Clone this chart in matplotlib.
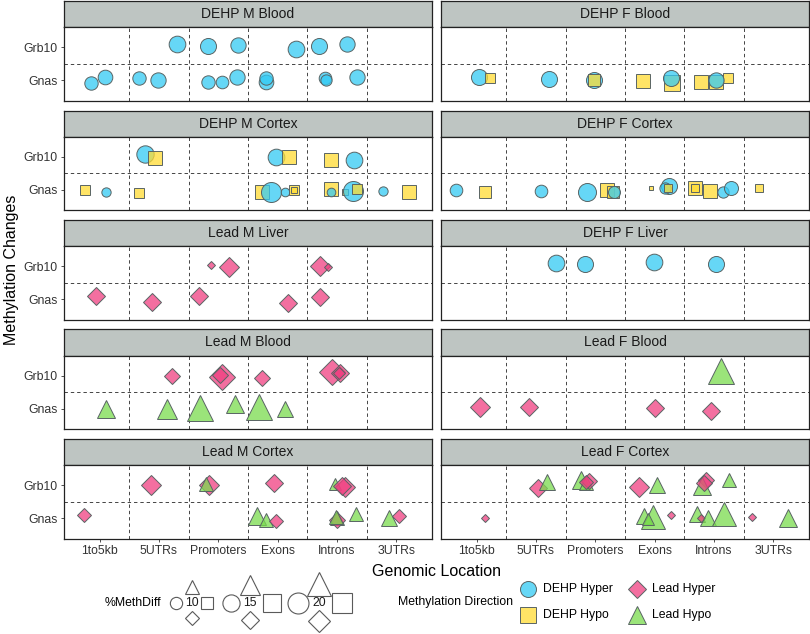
import numpy as np
import matplotlib.pyplot as plt
from matplotlib.colors import to_rgba

plt.rcParams['font.family'] = ['Liberation Sans', 'DejaVu Sans']

regions = ['1to5kb', '5UTRs', 'Promoters', 'Exons', 'Introns', '3UTRs']
genes = ['Gnas', 'Grb10']
directions = ['DEHP Hyper', 'DEHP Hypo', 'Lead Hyper', 'Lead Hypo']
size_breaks = [10, 15, 20]

# rows: (region, gene, direction, %MethDiff, jitter x, jitter y)
dehp_m_blood = [
    ('5UTRs', 'Grb10', 'DEHP Hyper', 14.4, 0.31, 0.10),
    ('Promoters', 'Grb10', 'DEHP Hyper', 13.7, -0.18, 0.03),
    ('Promoters', 'Grb10', 'DEHP Hyper', 12.9, 0.33, 0.07),
    ('Exons', 'Grb10', 'DEHP Hyper', 14.4, 0.31, -0.05),
    ('Introns', 'Grb10', 'DEHP Hyper', 13.7, -0.31, 0.02),
    ('Introns', 'Grb10', 'DEHP Hyper', 12.9, 0.17, 0.08),
    ('1to5kb', 'Gnas', 'DEHP Hyper', 11.0, -0.14, -0.07),
    ('1to5kb', 'Gnas', 'DEHP Hyper', 12.2, 0.09, 0.09),
    ('5UTRs', 'Gnas', 'DEHP Hyper', 11.0, -0.33, 0.08),
    ('5UTRs', 'Gnas', 'DEHP Hyper', 12.9, -0.01, 0.01),
    ('Promoters', 'Gnas', 'DEHP Hyper', 11.0, -0.17, -0.06),
    ('Promoters', 'Gnas', 'DEHP Hyper', 10.3, 0.06, -0.05),
    ('Promoters', 'Gnas', 'DEHP Hyper', 12.9, 0.32, 0.10),
    ('Exons', 'Gnas', 'DEHP Hyper', 12.2, -0.20, -0.04),
    ('Exons', 'Gnas', 'DEHP Hyper', 11.0, -0.20, 0.07),
    ('Introns', 'Gnas', 'DEHP Hyper', 10.3, -0.21, 0.07),
    ('Introns', 'Gnas', 'DEHP Hyper', 9.2, -0.18, 0.01),
    ('Introns', 'Gnas', 'DEHP Hyper', 12.9, 0.33, 0.09),
]

dehp_m_cortex = [
    ('5UTRs', 'Grb10', 'DEHP Hyper', 15.2, -0.23, 0.08),
    ('5UTRs', 'Grb10', 'DEHP Hypo', 12.2, -0.07, -0.03),
    ('Exons', 'Grb10', 'DEHP Hyper', 14.4, -0.03, 0.0),
    ('Exons', 'Grb10', 'DEHP Hypo', 12.2, 0.19, 0.0),
    ('Introns', 'Grb10', 'DEHP Hypo', 12.2, -0.11, -0.10),
    ('Introns', 'Grb10', 'DEHP Hyper', 14.4, 0.29, -0.10),
    ('1to5kb', 'Gnas', 'DEHP Hypo', 8.8, -0.25, -0.01),
    ('1to5kb', 'Gnas', 'DEHP Hyper', 7.8, 0.10, -0.07),
    ('5UTRs', 'Gnas', 'DEHP Hypo', 8.3, -0.34, -0.09),
    ('Exons', 'Gnas', 'DEHP Hypo', 11.0, -0.27, -0.07),
    ('Exons', 'Gnas', 'DEHP Hyper', 18.6, -0.12, -0.07),
    ('Exons', 'Gnas', 'DEHP Hyper', 7.4, 0.13, -0.07),
    ('Exons', 'Gnas', 'DEHP Hypo', 7.8, 0.27, -0.01),
    ('Exons', 'Gnas', 'DEHP Hypo', 6.1, 0.27, -0.01),
    ('Introns', 'Gnas', 'DEHP Hypo', 11.0, -0.10, 0.04),
    ('Introns', 'Gnas', 'DEHP Hyper', 7.4, -0.10, -0.07),
    ('Introns', 'Gnas', 'DEHP Hypo', 6.1, 0.13, -0.07),
    ('Introns', 'Gnas', 'DEHP Hyper', 18.6, 0.27, -0.04),
    ('Introns', 'Gnas', 'DEHP Hypo', 8.8, 0.33, 0.04),
    ('3UTRs', 'Gnas', 'DEHP Hyper', 7.8, -0.22, -0.04),
    ('3UTRs', 'Gnas', 'DEHP Hypo', 11.0, 0.21, -0.07),
]

lead_m_liver = [
    ('Promoters', 'Grb10', 'Lead Hyper', 6.4, -0.13, 0.02),
    ('Promoters', 'Grb10', 'Lead Hyper', 17.4, 0.18, -0.04),
    ('Introns', 'Grb10', 'Lead Hyper', 17.4, -0.29, 0.01),
    ('Introns', 'Grb10', 'Lead Hyper', 6.7, -0.15, -0.03),
    ('1to5kb', 'Gnas', 'Lead Hyper', 15.1, -0.06, 0.11),
    ('5UTRs', 'Gnas', 'Lead Hyper', 15.1, -0.11, -0.08),
    ('Promoters', 'Gnas', 'Lead Hyper', 13.7, -0.33, 0.09),
    ('Exons', 'Gnas', 'Lead Hyper', 15.1, 0.18, -0.11),
    ('Introns', 'Gnas', 'Lead Hyper', 15.1, -0.29, 0.06),
]

lead_m_blood = [
    ('5UTRs', 'Grb10', 'Lead Hyper', 11.8, 0.22, -0.01),
    ('Promoters', 'Grb10', 'Lead Hyper', 23.8, 0.07, -0.03),
    ('Promoters', 'Grb10', 'Lead Hyper', 12.9, 0.03, 0.02),
    ('Exons', 'Grb10', 'Lead Hyper', 12.9, -0.27, -0.06),
    ('Introns', 'Grb10', 'Lead Hyper', 24.8, -0.08, 0.11),
    ('Introns', 'Grb10', 'Lead Hyper', 13.7, 0.05, 0.09),
    ('Introns', 'Grb10', 'Lead Hyper', 8.6, 0.04, 0.08),
    ('1to5kb', 'Gnas', 'Lead Hypo', 12.7, 0.11, 0.0),
    ('5UTRs', 'Gnas', 'Lead Hypo', 14.6, 0.14, 0.0),
    ('Promoters', 'Gnas', 'Lead Hypo', 21.5, -0.31, 0.02),
    ('Promoters', 'Gnas', 'Lead Hypo', 12.7, 0.28, 0.15),
    ('Exons', 'Gnas', 'Lead Hypo', 21.5, -0.32, 0.05),
    ('Exons', 'Gnas', 'Lead Hypo', 12.1, 0.12, -0.01),
]

lead_m_cortex = [
    ('5UTRs', 'Grb10', 'Lead Hyper', 15.9, -0.13, 0.0),
    ('Promoters', 'Grb10', 'Lead Hyper', 17.4, -0.16, 0.0),
    ('Promoters', 'Grb10', 'Lead Hypo', 9.5, -0.20, 0.03),
    ('Exons', 'Grb10', 'Lead Hyper', 15.1, -0.07, 0.06),
    ('Introns', 'Grb10', 'Lead Hypo', 8.5, -0.04, 0.03),
    ('Introns', 'Grb10', 'Lead Hyper', 17.4, 0.13, -0.06),
    ('Introns', 'Grb10', 'Lead Hyper', 15.1, 0.09, -0.04),
    ('1to5kb', 'Gnas', 'Lead Hyper', 10.6, -0.26, 0.11),
    ('Exons', 'Gnas', 'Lead Hypo', 12.7, -0.35, 0.06),
    ('Exons', 'Gnas', 'Lead Hypo', 10.5, -0.19, -0.05),
    ('Exons', 'Gnas', 'Lead Hyper', 10.1, -0.03, -0.07),
    ('Introns', 'Gnas', 'Lead Hypo', 10.5, 0.0, 0.0),
    ('Introns', 'Gnas', 'Lead Hyper', 11.8, 0.0, -0.04),
    ('Introns', 'Gnas', 'Lead Hypo', 9.5, -0.01, 0.04),
    ('Introns', 'Gnas', 'Lead Hypo', 10.5, 0.32, 0.13),
    ('3UTRs', 'Gnas', 'Lead Hypo', 12.1, -0.12, 0.0),
    ('3UTRs', 'Gnas', 'Lead Hyper', 11.2, 0.04, 0.08),
]

dehp_f_blood = [
    ('1to5kb', 'Gnas', 'DEHP Hyper', 13.7, 0.04, 0.09),
    ('1to5kb', 'Gnas', 'DEHP Hypo', 8.8, 0.23, 0.06),
    ('5UTRs', 'Gnas', 'DEHP Hyper', 13.7, 0.22, 0.03),
    ('Promoters', 'Gnas', 'DEHP Hyper', 13.7, -0.03, 0.02),
    ('Promoters', 'Gnas', 'DEHP Hypo', 9.2, -0.03, 0.02),
    ('Exons', 'Gnas', 'DEHP Hypo', 11.0, -0.19, -0.01),
    ('Exons', 'Gnas', 'DEHP Hypo', 12.9, 0.30, -0.07),
    ('Exons', 'Gnas', 'DEHP Hyper', 13.7, 0.28, 0.08),
    ('Introns', 'Gnas', 'DEHP Hypo', 11.0, -0.22, -0.04),
    ('Introns', 'Gnas', 'DEHP Hypo', 12.2, 0.04, -0.06),
    ('Introns', 'Gnas', 'DEHP Hypo', 8.3, 0.24, 0.06),
    ('Introns', 'Gnas', 'DEHP Hyper', 12.9, 0.03, 0.01),
]

dehp_f_cortex = [
    ('1to5kb', 'Gnas', 'DEHP Hyper', 10.3, -0.35, 0.01),
    ('1to5kb', 'Gnas', 'DEHP Hypo', 10.3, 0.14, -0.06),
    ('5UTRs', 'Gnas', 'DEHP Hyper', 10.3, 0.08, -0.03),
    ('Promoters', 'Gnas', 'DEHP Hyper', 16.0, -0.14, -0.05),
    ('Promoters', 'Gnas', 'DEHP Hypo', 12.2, 0.20, 0.0),
    ('Promoters', 'Gnas', 'DEHP Hypo', 9.8, 0.29, -0.05),
    ('Promoters', 'Gnas', 'DEHP Hyper', 9.8, 0.32, -0.05),
    ('Exons', 'Gnas', 'DEHP Hypo', 5.4, -0.07, 0.07),
    ('Exons', 'Gnas', 'DEHP Hyper', 13.7, 0.24, 0.12),
    ('Exons', 'Gnas', 'DEHP Hyper', 9.2, 0.17, 0.06),
    ('Exons', 'Gnas', 'DEHP Hypo', 7.4, 0.22, 0.06),
    ('Introns', 'Gnas', 'DEHP Hypo', 11.6, -0.32, 0.07),
    ('Introns', 'Gnas', 'DEHP Hypo', 7.0, -0.32, 0.07),
    ('Introns', 'Gnas', 'DEHP Hypo', 11.0, -0.06, -0.02),
    ('Introns', 'Gnas', 'DEHP Hyper', 9.2, 0.15, -0.07),
    ('Introns', 'Gnas', 'DEHP Hyper', 11.6, 0.29, 0.06),
    ('3UTRs', 'Gnas', 'DEHP Hypo', 7.0, -0.25, 0.07),
]

dehp_f_liver = [
    ('5UTRs', 'Grb10', 'DEHP Hyper', 14.4, 0.34, 0.10),
    ('Promoters', 'Grb10', 'DEHP Hyper', 13.7, -0.18, 0.06),
    ('Exons', 'Grb10', 'DEHP Hyper', 14.4, -0.01, 0.11),
    ('Introns', 'Grb10', 'DEHP Hyper', 13.7, 0.04, 0.06),
]

lead_f_blood = [
    ('Introns', 'Grb10', 'Lead Hypo', 22.4, 0.12, 0.14),
    ('1to5kb', 'Gnas', 'Lead Hyper', 15.9, 0.06, 0.07),
    ('5UTRs', 'Gnas', 'Lead Hyper', 15.1, -0.11, 0.05),
    ('Exons', 'Gnas', 'Lead Hyper', 15.1, 0.01, 0.02),
    ('Introns', 'Gnas', 'Lead Hyper', 15.1, -0.05, -0.05),
]

lead_f_cortex = [
    ('5UTRs', 'Grb10', 'Lead Hyper', 15.1, 0.04, -0.09),
    ('5UTRs', 'Grb10', 'Lead Hypo', 11.0, 0.18, 0.09),
    ('Promoters', 'Grb10', 'Lead Hypo', 13.9, -0.24, 0.15),
    ('Promoters', 'Grb10', 'Lead Hypo', 9.5, -0.16, 0.05),
    ('Promoters', 'Grb10', 'Lead Hyper', 12.9, -0.10, 0.12),
    ('Promoters', 'Grb10', 'Lead Hyper', 10.1, -0.16, 0.08),
    ('Exons', 'Grb10', 'Lead Hyper', 15.9, -0.27, -0.05),
    ('Exons', 'Grb10', 'Lead Hypo', 11.0, 0.04, -0.01),
    ('Introns', 'Grb10', 'Lead Hyper', 12.3, -0.14, 0.15),
    ('Introns', 'Grb10', 'Lead Hypo', 13.9, -0.20, -0.03),
    ('Introns', 'Grb10', 'Lead Hyper', 12.9, -0.17, 0.05),
    ('Introns', 'Grb10', 'Lead Hypo', 10.5, 0.26, 0.15),
    ('1to5kb', 'Gnas', 'Lead Hyper', 7.0, 0.14, 0.02),
    ('Exons', 'Gnas', 'Lead Hypo', 12.1, -0.18, 0.08),
    ('Exons', 'Gnas', 'Lead Hypo', 19.0, -0.03, 0.03),
    ('Exons', 'Gnas', 'Lead Hypo', 8.5, -0.12, -0.02),
    ('Exons', 'Gnas', 'Lead Hyper', 7.0, 0.28, 0.09),
    ('Introns', 'Gnas', 'Lead Hypo', 11.0, -0.28, 0.14),
    ('Introns', 'Gnas', 'Lead Hyper', 6.7, -0.22, 0.02),
    ('Introns', 'Gnas', 'Lead Hypo', 12.1, -0.10, 0.0),
    ('Introns', 'Gnas', 'Lead Hypo', 19.0, 0.17, 0.14),
    ('3UTRs', 'Gnas', 'Lead Hyper', 6.7, -0.36, 0.03),
    ('3UTRs', 'Gnas', 'Lead Hypo', 12.7, 0.25, 0.01),
]

panels = [
    ('DEHP M Blood', dehp_m_blood, 0, 0), ('DEHP F Blood', dehp_f_blood, 1, 0),
    ('DEHP M Cortex', dehp_m_cortex, 0, 1), ('DEHP F Cortex', dehp_f_cortex, 1, 1),
    ('Lead M Liver', lead_m_liver, 0, 2), ('DEHP F Liver', dehp_f_liver, 1, 2),
    ('Lead M Blood', lead_m_blood, 0, 3), ('Lead F Blood', lead_f_blood, 1, 3),
    ('Lead M Cortex', lead_m_cortex, 0, 4), ('Lead F Cortex', lead_f_cortex, 1, 4),
]

# styling
fills = {'DEHP Hyper': '#33CAF4', 'DEHP Hypo': '#FFDC33',
         'Lead Hyper': '#EF3F80', 'Lead Hypo': '#7ADC4E'}
markers = {'DEHP Hyper': 'o', 'DEHP Hypo': 's', 'Lead Hyper': 'D', 'Lead Hypo': '^'}
mscale = {'o': 1.0, 's': 1.0, 'D': 0.76, '^': 1.15}
edge = '#596464'
ALPHA = 0.75

W, H = 810, 634
fig = plt.figure(figsize=(W / 100, H / 100), dpi=100)


def diam(v):
    # diameter in px for a %MethDiff value
    return np.sqrt(29 * v - 140)


def px_ax(x0, top, w, h):
    return fig.add_axes([x0 / W, 1 - (top + h) / H, w / W, h / H])


col_x = [64, 441]
col_w = 368
for title, rows, col, row in panels:
    strip_top = 1 + row * 109.5
    ptop = strip_top + 26
    sax = px_ax(col_x[col], strip_top, col_w, 26)
    sax.set_facecolor('#BEC5C2')
    sax.set_xticks([])
    sax.set_yticks([])
    for s in sax.spines.values():
        s.set_color('#222222')
        s.set_linewidth(0.9)
    sax.text(0.5, 0.5, title, ha='center', va='center', fontsize=10,
             color='#1A1A1A', transform=sax.transAxes)

    ax = px_ax(col_x[col], ptop, col_w, 73.5)
    ax.set_xlim(0.4, 6.6)
    ax.set_ylim(0.4, 2.6)
    for xv in np.arange(1.5, 6, 1):
        ax.axvline(xv, color='#444444', lw=0.7, dashes=(3.5, 3), zorder=1)
    ax.axhline(1.5, color='#444444', lw=0.7, dashes=(3.5, 3), zorder=1)
    for s in ax.spines.values():
        s.set_color('#222222')
        s.set_linewidth(0.9)
    ax.set_xticks(range(1, 7))
    ax.set_yticks([1, 2])
    ax.tick_params(length=2.5, width=0.6, color='#333333', pad=2,
                   labelsize=8.8, labelcolor='#333333')
    if col == 0:
        ax.set_yticklabels(genes)
    else:
        ax.tick_params(axis='y', length=0, labelleft=False)
    if row == 4:
        ax.set_xticklabels(regions)
    else:
        ax.tick_params(axis='x', length=0, labelbottom=False)

    for reg, gene, grp, v, jx, jy in rows:
        x = regions.index(reg) + 1 + jx
        y = genes.index(gene) + 1 + jy
        m = markers[grp]
        ax.plot(x, y, marker=m, ms=diam(v) * 0.72 * mscale[m],
                mfc=to_rgba(fills[grp], ALPHA), mec=edge, mew=0.7,
                ls='none', zorder=3, clip_on=False)

fig.text(436.5 / W, 1 - 571 / H, 'Genomic Location', ha='center', va='center', fontsize=11.5)
fig.text(12 / W, 1 - 270 / H, 'Methylation Changes', ha='center', va='center',
         rotation=90, fontsize=11.5)

# legends, drawn in pixel coordinates
lax = fig.add_axes([0, 0, 1, 1], facecolor='none')
lax.set_xlim(0, W)
lax.set_ylim(H, 0)
lax.axis('off')

lax.text(105, 603, '%MethDiff', ha='left', va='center', fontsize=8.8)
key_x = [(176, 192, 207), (231, 250, 272), (298, 319, 342)]
for v, (cx, lx, sx) in zip(size_breaks, key_x):
    d = diam(v) * 0.72
    st = dict(ls='none', mfc='none', mec='#5A5A5A', mew=0.8)
    lax.plot(cx, 603, marker='o', ms=d, **st)
    lax.plot(sx, 603, marker='s', ms=d, **st)
    lax.plot(lx, 603 - 10 - diam(v) * 0.45, marker='^', ms=d * 1.15, **st)
    lax.plot(lx, 603 + 10 + diam(v) * 0.4, marker='D', ms=d * 0.76, **st)
    lax.text(lx, 603, str(v), ha='center', va='center', fontsize=8.8, color='#1A1A1A')

lax.text(398, 602, 'Methylation Direction', ha='left', va='center', fontsize=8.8)
key_pos = {'DEHP Hyper': (528, 589), 'DEHP Hypo': (528, 615),
           'Lead Hyper': (637, 589), 'Lead Hypo': (637, 615)}
for grp in directions:
    kx, ky = key_pos[grp]
    m = markers[grp]
    lax.plot(kx, ky, marker=m, ms=16 * 0.72 * mscale[m] * (1.0 if m != 'D' else 1.05),
             mfc=to_rgba(fills[grp], ALPHA), mec=edge, mew=0.7, ls='none')
    lax.text(kx + 15, ky, grp, ha='left', va='center', fontsize=8.8)

fig.savefig('out.png', dpi=100)
